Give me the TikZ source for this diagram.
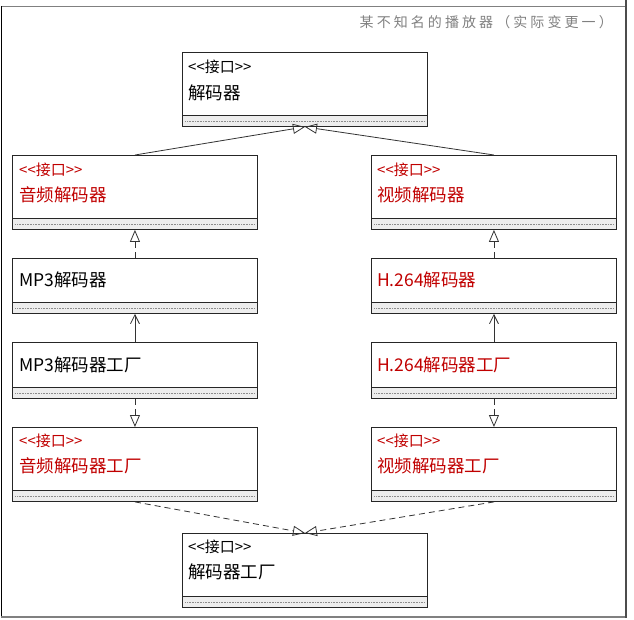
\documentclass[tikz,border=0pt]{standalone}
\usepackage{fontspec}
\newfontfamily\cjk{Noto Sans CJK SC}
\newfontfamily\cjktitle[LetterSpace=22]{Noto Sans CJK SC}
\usetikzlibrary{arrows.meta,positioning}
\definecolor{ifred}{HTML}{C00000}
\definecolor{framegray}{HTML}{808080}

\begin{document}
\begin{tikzpicture}[x=1pt, y=-1pt,
  umlbox/.style={draw=black!85, line width=0.9pt, anchor=north west, minimum width=245pt,
    minimum height=#1, inner sep=0pt,
    path picture={
      \fill[black!7] ([yshift=11pt]path picture bounding box.south west) rectangle (path picture bounding box.south east);
      \draw[black!85, line width=0.9pt] ([yshift=11pt]path picture bounding box.south west) -- ([yshift=11pt]path picture bounding box.south east);
      \draw[black!45, densely dotted, line width=0.6pt] ([xshift=3pt,yshift=5.5pt]path picture bounding box.south west) -- ([xshift=-3pt,yshift=5.5pt]path picture bounding box.south east);
    }},
  stereo/.style={anchor=west, inner sep=0pt, font=\cjk\fontsize{15}{17}\selectfont},
  clsname/.style={anchor=west, inner sep=0pt, font=\cjk\fontsize{17.5}{20}\selectfont},
  iface/.style={text=ifred},
  gen/.style={draw=black!80, line width=0.8pt, -{Triangle[open, length=12pt, width=10pt]}},
  real/.style={gen, dash pattern=on 6pt off 4pt},
  dep/.style={draw=black!80, line width=0.8pt, -{Straight Barb[length=9pt, width=9pt]}}]
  \useasboundingbox (0,0) rectangle (634,620);
  \draw[framegray, line width=1.5pt] (1,6.5) -- (626,6.5);
  \draw[black, line width=1pt] (1,6) -- (1,617);
  \draw[framegray, line width=1.5pt] (1,617) -- (626,617);
  \draw[black!70, line width=1.2pt] (626,0) -- (626,617.7);
  \node[anchor=east, inner sep=0pt, text=framegray, font=\cjktitle\fontsize{14}{16}\selectfont] (title) at (613,22.5) {某不知名的播放器（实际变更一）};

  \node[umlbox=74pt] (dec) at (182,52) {};
  \node[stereo] (decst) at (188,67) {<\kern0pt<接口>\kern0pt>};
  \node[clsname] (decnm) at (188,93) {解码器};

  \node[umlbox=74pt] (aud) at (12,155) {};
  \node[stereo, iface] (audst) at (19,170) {<\kern0pt<接口>\kern0pt>};
  \node[clsname, iface] (audnm) at (19,195) {音频解码器};
  \node[umlbox=74pt] (vid) at (371,155) {};
  \node[stereo, iface] (vidst) at (377,170) {<\kern0pt<接口>\kern0pt>};
  \node[clsname, iface] (vidnm) at (377,195) {视频解码器};

  \node[umlbox=55pt] (mp3) at (12,258) {};
  \node[clsname] (mp3nm) at (19,280) {MP3解码器};
  \node[umlbox=55pt] (h264) at (371,258) {};
  \node[clsname, iface] (h264nm) at (377,280) {H.264解码器};

  \node[umlbox=56pt] (mp3f) at (12,342) {};
  \node[clsname] (mp3fnm) at (19,365) {MP3解码器工厂};
  \node[umlbox=56pt] (h264f) at (371,342) {};
  \node[clsname, iface] (h264fnm) at (377,365) {H.264解码器工厂};

  \node[umlbox=74pt] (audf) at (12,427) {};
  \node[stereo, iface] (audfst) at (19,441) {<\kern0pt<接口>\kern0pt>};
  \node[clsname, iface] (audfnm) at (19,466) {音频解码器工厂};
  \node[umlbox=74pt] (vidf) at (371,427) {};
  \node[stereo, iface] (vidfst) at (377,441) {<\kern0pt<接口>\kern0pt>};
  \node[clsname, iface] (vidfnm) at (377,466) {视频解码器工厂};

  \node[umlbox=74pt] (decf) at (182,533) {};
  \node[stereo] (decfst) at (188,547) {<\kern0pt<接口>\kern0pt>};
  \node[clsname] (decfnm) at (188,572) {解码器工厂};

  \draw[gen] (aud.north) -- (dec.south);
  \draw[gen] (vid.north) -- (dec.south);
  \draw[real] (mp3.north) -- (aud.south);
  \draw[real] (h264.north) -- (vid.south);
  \draw[dep] (mp3f.north) -- (mp3.south);
  \draw[dep] (h264f.north) -- (h264.south);
  \draw[real] (mp3f.south) -- (audf.north);
  \draw[real] (h264f.south) -- (vidf.north);
  \draw[real] (audf.south) -- (decf.north);
  \draw[real] (vidf.south) -- (decf.north);
\end{tikzpicture}
\end{document}
